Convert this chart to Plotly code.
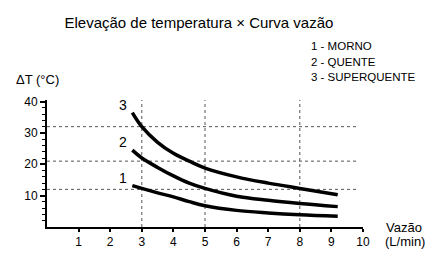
import plotly.graph_objects as go

# Data
flow = [2.7, 3.0, 3.5, 4.0, 4.5, 5.0, 6.0, 7.0, 8.0, 9.2]
morno = [13.2, 12.3, 10.9, 9.6, 8.1, 6.8, 5.3, 4.5, 3.9, 3.4]
quente = [24.5, 22.0, 19.0, 16.3, 14.0, 12.3, 9.8, 8.5, 7.5, 6.5]
superquente = [36.5, 32.0, 27.0, 23.5, 21.0, 18.8, 16.0, 14.0, 12.3, 10.3]
series_labels = ["1", "2", "3"]
legend_lines = ["1 - MORNO", "2 - QUENTE", "3 - SUPERQUENTE"]
h_ref = [32, 21, 12]
v_ref = [3, 5, 8]
x_ticks = [1, 2, 3, 4, 5, 6, 7, 8, 9, 10]
y_ticks = [10, 20, 30, 40]

FONT = "Liberation Sans, Arial, sans-serif"

fig = go.Figure()

# reference grid lines
for yv in h_ref:
    fig.add_trace(go.Scatter(x=[0, 9.8], y=[yv, yv], mode="lines",
                             line=dict(color="#555", width=1, dash="dot"),
                             hoverinfo="skip", showlegend=False))
for xv in v_ref:
    fig.add_trace(go.Scatter(x=[xv, xv], y=[0, 41], mode="lines",
                             line=dict(color="#555", width=1, dash="dot"),
                             hoverinfo="skip", showlegend=False))

for ys in (morno, quente, superquente):
    fig.add_trace(go.Scatter(x=flow, y=ys, mode="lines",
                             line=dict(color="black", width=3.5, shape="spline"),
                             showlegend=False))

# curve labels
for lab, ys in zip(series_labels, (morno, quente, superquente)):
    fig.add_annotation(x=flow[0], y=ys[0], text=lab, showarrow=False,
                       xanchor="right", yanchor="bottom", xshift=-3, yshift=-2,
                       font=dict(size=14, color="black", family=FONT))

fig.update_layout(
    width=447, height=267,
    margin=dict(l=47, r=84, t=100, b=40),
    paper_bgcolor="white", plot_bgcolor="white",
    font=dict(family=FONT, color="black", size=11),
    title=dict(text="Elevação de temperatura × Curva vazão", x=0.445, xanchor="center",
               y=0.915, yanchor="middle", font=dict(size=15, family=FONT)),
    xaxis=dict(range=[0, 10], tickvals=x_ticks, showgrid=False, zeroline=False,
               showline=True, linecolor="black", linewidth=2,
               ticks="outside", ticklen=3, tickcolor="black", tickwidth=1.5,
               tickfont=dict(size=12)),
    yaxis=dict(range=[0, 40.5], tickvals=y_ticks, showgrid=False, zeroline=False,
               showline=True, linecolor="black", linewidth=2,
               ticks="outside", ticklen=5, tickcolor="black", tickwidth=1.5,
               tickfont=dict(size=12),
               minor=dict(tickvals=list(range(2, 40, 2)), ticks="outside",
                          ticklen=3, tickcolor="black", tickwidth=1)),
)

# legend text block
for i, t in enumerate(legend_lines):
    fig.add_annotation(xref="paper", yref="paper", x=(309 - 47) / 316,
                       y=(267 - 40 - (46 + 15.5 * i)) / 127, text=t, showarrow=False,
                       xanchor="left", yanchor="middle",
                       font=dict(size=11.5, family=FONT))

# axis titles
fig.add_annotation(xref="paper", yref="paper", x=(14 - 47) / 316, y=(227 - 79) / 127,
                   text="ΔT (°C)", showarrow=False, xanchor="left", yanchor="middle",
                   font=dict(size=13, family=FONT))
fig.add_annotation(xref="paper", yref="paper", x=(404 - 47) / 316, y=(227 - 227) / 127,
                   text="Vazão", showarrow=False, xanchor="center", yanchor="middle",
                   font=dict(size=13, family=FONT))
fig.add_annotation(xref="paper", yref="paper", x=(405 - 47) / 316, y=(227 - 241) / 127,
                   text="(L/min)", showarrow=False, xanchor="center", yanchor="middle",
                   font=dict(size=13, family=FONT))

fig.write_html("out.html")
